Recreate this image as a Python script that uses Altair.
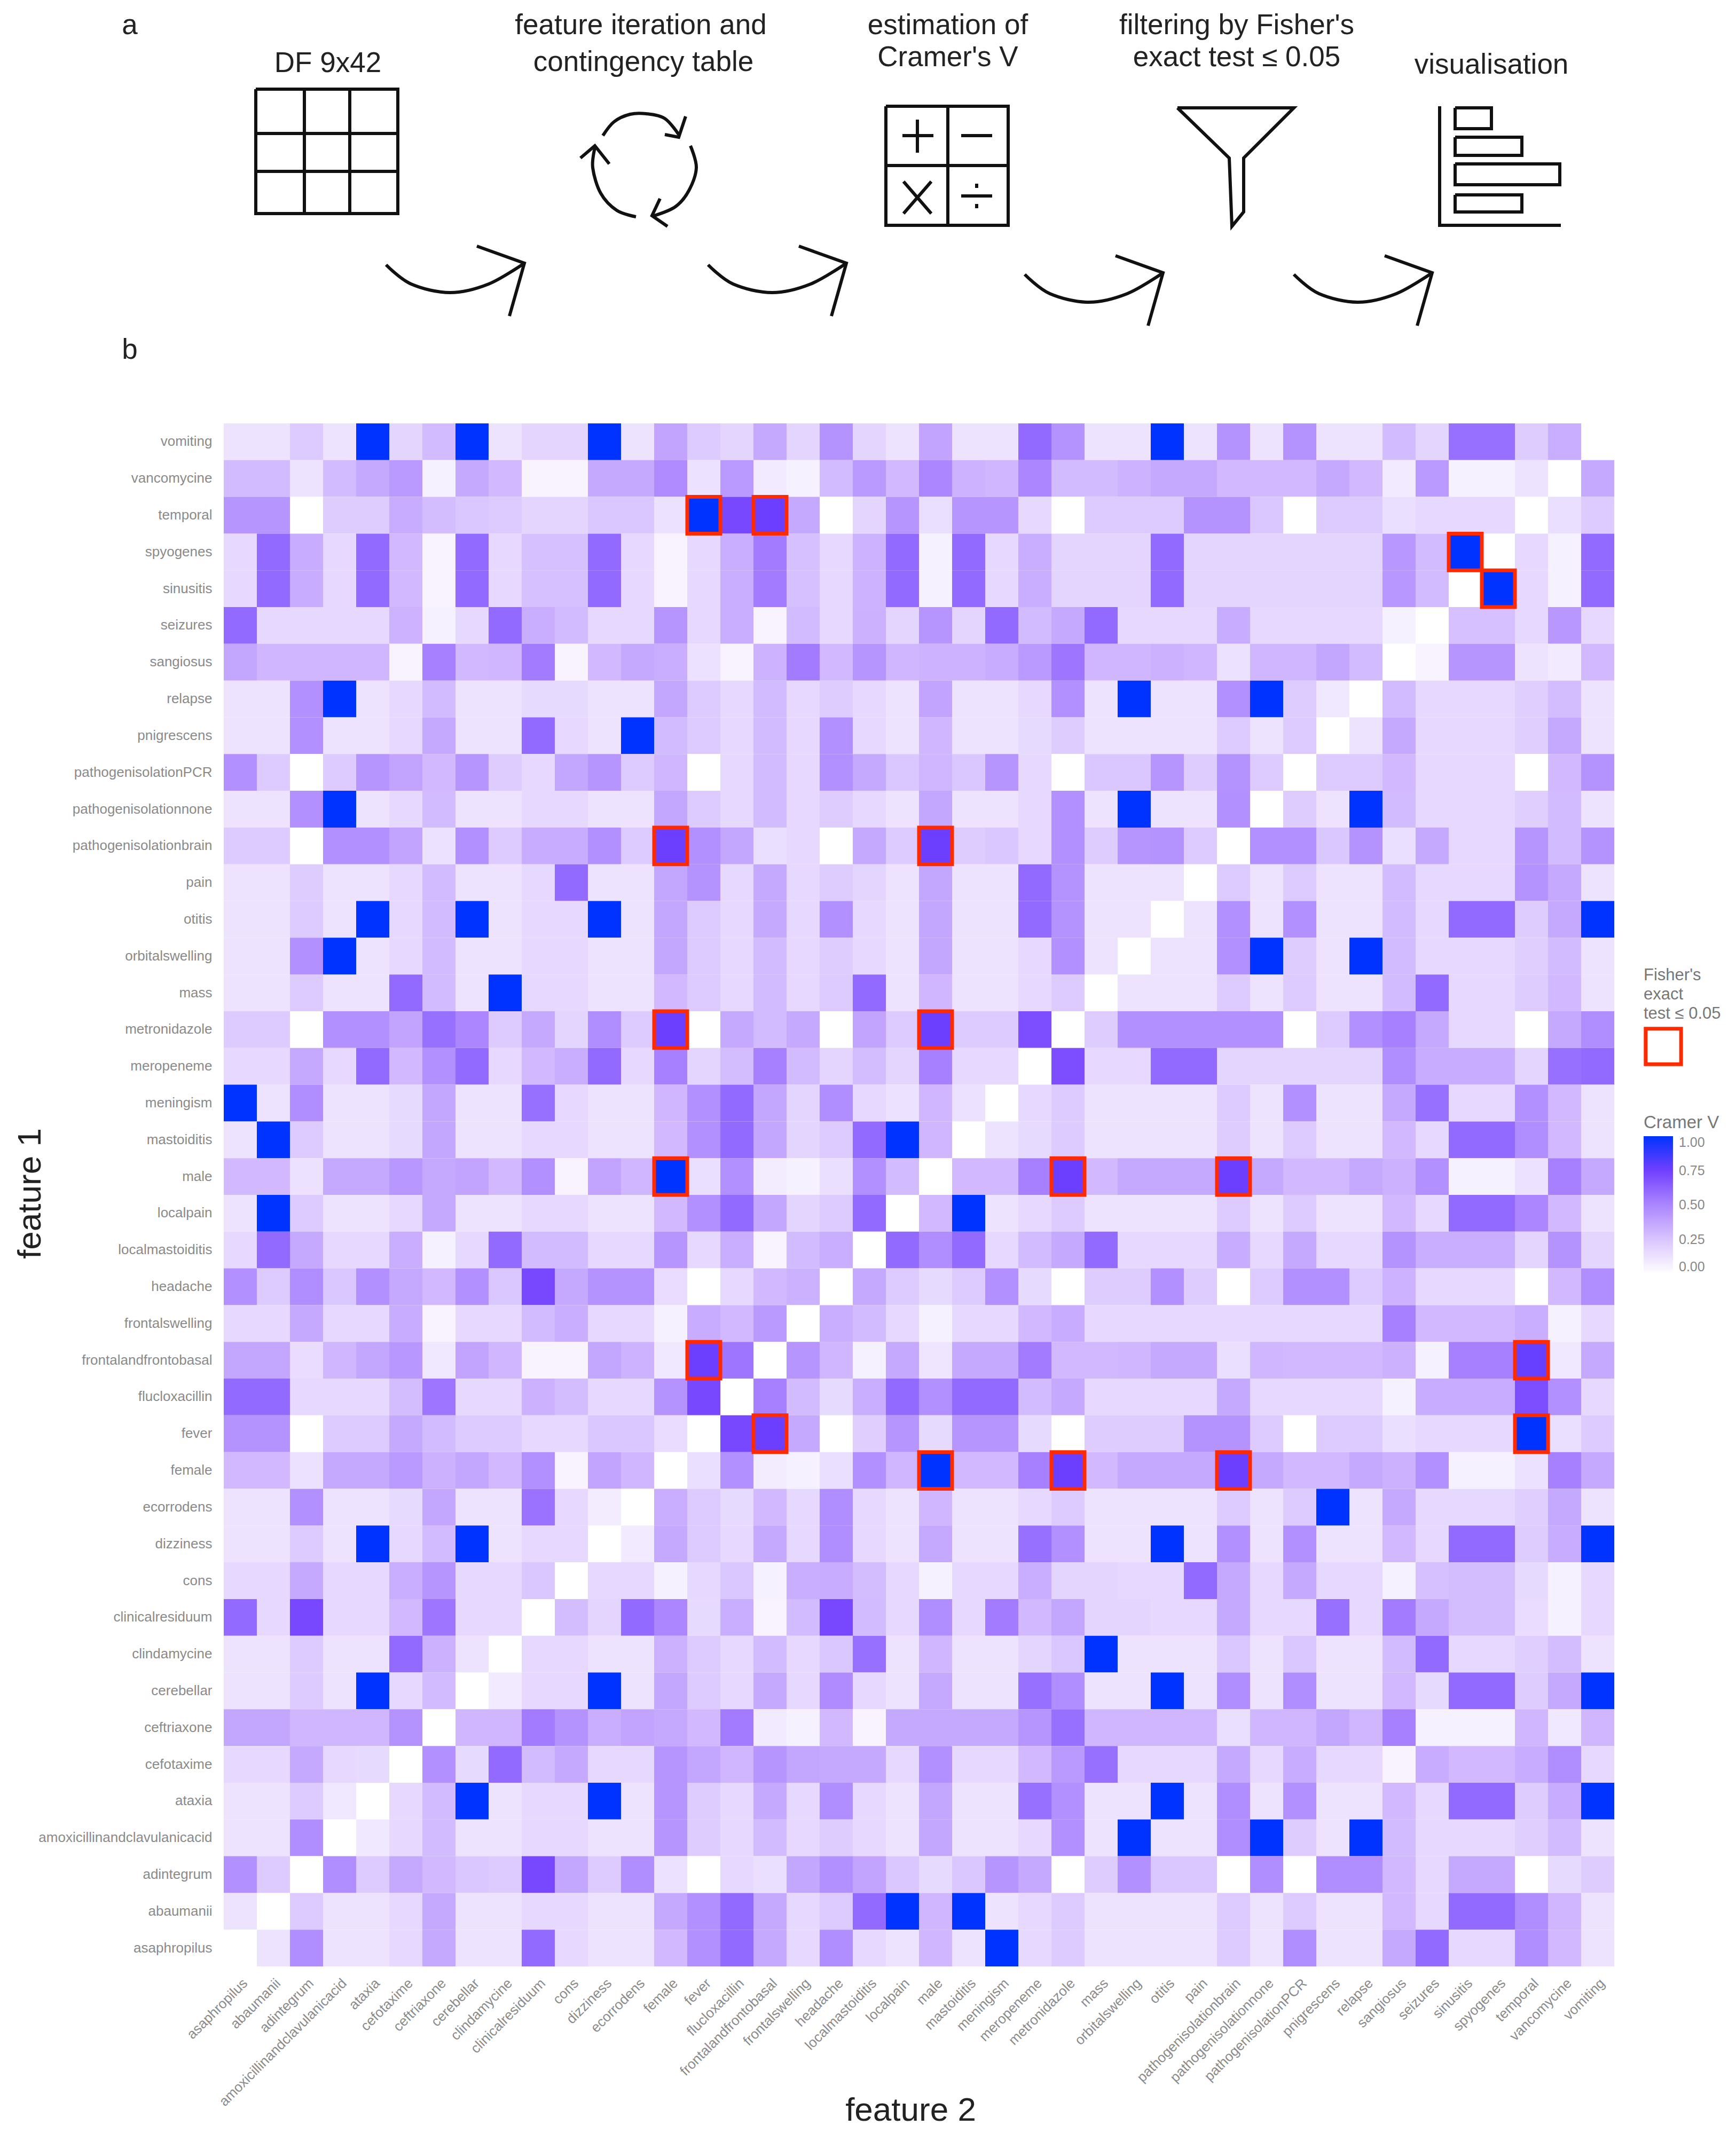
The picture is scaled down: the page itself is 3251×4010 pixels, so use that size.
import altair as alt
import pandas as pd

FONT = "Liberation Sans"

features_y = ["vomiting","vancomycine","temporal","spyogenes","sinusitis","seizures","sangiosus","relapse","pnigrescens","pathogenisolationPCR","pathogenisolationnone","pathogenisolationbrain","pain","otitis","orbitalswelling","mass","metronidazole","meropeneme","meningism","mastoiditis","male","localpain","localmastoiditis","headache","frontalswelling","frontalandfrontobasal","flucloxacillin","fever","female","ecorrodens","dizziness","cons","clinicalresiduum","clindamycine","cerebellar","ceftriaxone","cefotaxime","ataxia","amoxicillinandclavulanicacid","adintegrum","abaumanii","asaphropilus"]
features_x = features_y[::-1]

# Cramer's V in percent, one list per row (top to bottom), columns in features_x order
r_vomiting = [12,12,23,12,100,18,29,100,12,18,18, 100,12,38,23,18,36,18,45,18,12,38,12,12,60,45,12, 12,100,12,45,12,45,12,12,29,18,58,58,22,34,0]
r_vancomycine = [29,29,12,29,36,42,6,36,30,5,5, 36,36,48,13,42,9,6,29,42,30,50,32,31,50,29,29, 32,36,36,30,30,30,36,30,9,42,6,6,12,0,36]
r_temporal = [44,44,0,22,22,35,28,24,23,18,18, 24,24,13,100,72,76,36,0,18,44,14,44,44,17,0,23, 23,23,45,45,24,0,23,23,14,17,17,17,0,14,23]
r_spyogenes = [17,60,35,17,60,30,5,60,17,27,27, 60,17,5,17,34,54,27,17,32,60,6,60,17,34,18,18, 18,60,18,18,18,18,18,18,43,29,100,0,17,6,60]
r_sinusitis = [17,60,35,17,60,30,5,60,17,27,27, 60,17,5,17,34,54,27,17,32,60,6,60,17,34,18,18, 18,60,18,18,18,18,18,18,43,29,0,100,17,6,60]
r_seizures = [60,17,17,17,17,32,6,17,60,34,29, 17,17,44,17,34,5,29,17,33,18,44,18,60,29,36,60, 17,17,17,35,17,17,17,17,6,0,27,27,17,43,17]
r_sangiosus = [37,31,31,31,31,5,52,30,31,54,5, 30,36,34,13,5,32,54,30,44,31,32,32,35,42,56,31, 31,33,31,13,31,31,37,29,0,5,44,44,12,9,30]
r_relapse = [12,12,46,100,12,17,29,12,12,16,16, 12,12,37,23,17,29,17,22,17,12,38,12,12,17,46,12, 100,12,12,46,100,22,10,0,29,17,17,17,21,28,12]
r_pnigrescens = [12,12,46,12,12,17,36,12,12,60,17, 12,100,29,23,17,29,17,46,17,12,31,12,12,16,22,12, 12,12,12,23,12,23,0,12,36,17,17,17,21,36,12]
r_pcr = [46,23,0,23,44,38,30,44,22,17,37, 44,23,31,0,17,29,17,46,36,24,31,24,44,17,0,24, 24,44,22,45,23,0,23,23,30,17,17,17,0,30,45]
r_none = [12,12,46,100,12,17,29,12,12,17,17, 12,12,37,23,17,29,17,22,17,12,37,12,12,17,46,12, 100,12,12,46,0,22,12,100,29,17,17,17,21,29,12]
r_brain = [23,23,0,46,46,38,13,46,23,35,35, 46,23,76,46,37,14,17,0,36,23,76,22,24,17,46,22, 44,45,23,0,46,46,24,45,14,36,17,17,44,29,45]
r_pain = [12,12,22,12,12,17,29,12,12,17,60, 12,12,37,45,17,36,17,22,18,12,37,12,12,60,45,12, 12,12,0,23,12,23,12,12,29,17,17,17,45,36,12]
r_otitis = [12,12,23,12,100,17,29,100,12,17,17, 100,12,37,23,17,36,17,46,17,12,37,12,12,60,45,12, 12,0,12,46,12,46,12,12,29,17,60,60,22,36,100]
r_orbital = [12,12,46,100,12,17,29,12,12,17,17, 12,12,37,23,17,29,17,22,17,12,37,12,12,17,46,12, 0,12,12,46,100,22,12,100,29,17,17,17,21,29,12]
r_mass = [12,12,23,12,12,60,29,12,100,17,17, 12,12,30,23,17,29,17,23,60,12,31,12,12,17,23,0, 12,12,12,23,12,23,12,12,29,60,17,17,22,30,12]
r_metronidazole = [23,23,0,46,46,38,58,50,23,36,18, 47,23,76,0,36,29,36,0,38,23,76,23,23,70,0,22, 46,46,46,46,46,0,23,46,52,36,17,17,0,36,47]
r_meropeneme = [17,17,36,17,60,30,46,60,17,30,34, 60,17,52,18,28,52,29,18,28,18,52,17,17,0,70,17, 17,60,60,18,18,18,18,18,47,35,35,35,18,58,60]
r_meningism = [100,12,47,12,12,16,37,12,12,58,17, 12,12,31,46,60,37,18,47,17,13,31,13,0,17,23,12, 12,12,12,23,12,46,12,12,36,58,17,17,46,30,12]
r_mastoiditis = [12,100,23,12,12,16,37,12,12,17,17, 12,12,30,46,60,37,18,23,60,100,31,0,12,16,23,12, 12,12,12,22,12,23,12,12,30,17,60,60,47,30,12]
r_male = [30,30,13,36,36,43,36,38,30,46,5, 38,31,100,14,46,8,6,14,46,29,0,30,30,52,76,30, 36,36,36,76,36,30,30,36,33,46,6,6,13,52,36]
r_localpain = [12,100,23,12,12,17,36,12,12,17,17, 12,12,30,46,60,37,18,23,60,0,30,100,12,17,23,12, 12,12,12,23,12,23,12,12,30,17,60,60,50,30,12]
r_localmastoiditis = [17,60,36,17,17,34,6,17,60,29,29, 17,17,44,17,34,5,29,34,0,60,47,60,17,29,36,60, 17,17,17,35,17,36,17,17,45,34,34,34,18,45,18]
r_headache = [46,23,47,24,46,36,30,46,24,72,36, 45,45,15,0,17,30,33,0,36,23,16,23,46,16,0,22, 22,46,22,0,23,46,46,23,32,17,17,17,0,30,47]
r_frontalswelling = [17,17,36,17,17,35,5,17,17,29,34, 17,17,6,35,30,42,0,34,29,17,6,17,17,30,35,17, 17,17,17,17,17,17,17,17,52,30,30,30,34,6,17]
r_frontobasal = [37,37,15,31,37,43,10,38,31,5,5, 37,32,10,76,56,0,44,31,6,36,11,36,36,54,30,30, 31,36,36,14,31,30,30,30,33,6,52,52,77,10,36]
r_flucloxacillin = [60,60,17,17,17,28,56,17,17,33,28, 17,17,45,72,0,52,29,16,34,60,46,60,60,29,36,17, 17,17,17,36,17,17,17,17,6,35,35,35,70,46,17]
r_fever = [45,45,0,23,23,36,29,23,23,17,17, 24,24,15,0,72,76,36,0,21,44,16,44,44,16,0,22, 22,22,45,45,23,0,23,23,14,17,17,17,100,14,23]
r_female = [30,30,13,36,36,42,33,37,30,46,5, 38,31,0,14,46,8,6,14,46,31,100,30,30,52,76,30, 36,36,36,76,36,30,30,36,33,46,6,6,13,52,36]
r_ecorrodens = [12,12,46,12,12,16,37,12,12,57,17, 8,0,34,23,16,30,17,47,17,12,31,12,12,17,23,12, 12,12,12,23,12,23,100,12,36,17,17,17,21,36,12]
r_dizziness = [12,12,23,12,100,17,29,100,12,17,17, 0,9,36,23,17,36,17,47,17,12,36,12,12,58,46,12, 12,100,12,46,12,46,12,12,30,17,60,60,22,35,100]
r_cons = [17,17,36,17,17,34,44,17,17,24,0, 17,17,6,17,24,6,34,35,28,17,6,17,17,34,18,18, 17,17,60,36,17,36,17,17,6,27,28,28,16,6,17]
r_clinicalresiduum = [60,17,72,17,17,30,56,17,17,0,28, 18,60,50,16,34,5,29,72,29,17,47,17,54,30,37,18, 18,17,17,36,17,17,58,17,54,36,28,28,15,6,17]
r_clindamycine = [12,12,23,12,12,60,33,12,0,17,17, 12,12,33,23,17,29,17,24,58,12,31,12,12,18,24,100, 12,12,12,24,12,24,12,12,29,60,17,17,21,28,12]
r_cerebellar = [12,12,23,12,100,17,29,0,9,17,17, 100,12,37,23,17,36,17,48,17,12,36,12,12,58,47,12, 12,100,12,47,12,47,12,12,30,16,60,60,22,36,100]
r_ceftriaxone = [37,37,31,31,31,45,0,31,31,54,45, 34,38,36,30,54,9,6,30,5,36,36,36,36,44,58,31, 31,31,31,14,31,31,37,31,52,6,6,6,31,10,31]
r_cefotaxime = [17,17,36,17,16,0,46,16,60,29,36, 17,17,44,37,31,44,37,36,36,17,46,17,17,30,42,58, 17,17,17,36,17,35,17,17,5,35,30,30,35,47,17]
r_ataxia = [12,12,23,10,0,17,29,100,12,17,17, 100,12,44,22,17,36,17,47,17,12,37,12,12,58,46,12, 12,100,12,47,12,46,12,12,30,17,60,60,22,35,100]
r_amoxicillin = [12,12,47,0,10,17,29,12,12,17,17, 12,12,44,22,17,29,17,22,17,12,37,12,12,17,46,12, 100,12,12,47,100,22,12,100,29,17,17,17,21,29,12]
r_adintegrum = [46,23,0,47,23,36,30,24,23,72,37, 23,47,13,0,17,14,37,46,38,24,16,24,44,36,0,22, 46,24,24,0,47,0,47,47,30,17,36,36,0,16,22]
r_abaumanii = [12,0,23,12,12,17,36,12,12,17,17, 12,12,36,46,60,36,17,23,60,100,31,100,12,17,23,12, 12,12,12,23,12,23,12,12,30,17,60,60,47,31,12]
r_asaphropilus = [0,12,47,12,12,17,36,12,12,60,17, 12,12,30,46,60,36,17,47,17,12,31,12,100,17,23,12, 12,12,12,23,12,47,12,12,36,60,17,17,47,30,12]

rows = [r_vomiting,r_vancomycine,r_temporal,r_spyogenes,r_sinusitis,r_seizures,r_sangiosus,r_relapse,r_pnigrescens,r_pcr,r_none,r_brain,r_pain,r_otitis,r_orbital,r_mass,r_metronidazole,r_meropeneme,r_meningism,r_mastoiditis,r_male,r_localpain,r_localmastoiditis,r_headache,r_frontalswelling,r_frontobasal,r_flucloxacillin,r_fever,r_female,r_ecorrodens,r_dizziness,r_cons,r_clinicalresiduum,r_clindamycine,r_cerebellar,r_ceftriaxone,r_cefotaxime,r_ataxia,r_amoxicillin,r_adintegrum,r_abaumanii,r_asaphropilus]

fisher_pairs = [("temporal","fever"),("temporal","frontalandfrontobasal"),("spyogenes","sinusitis"),("sinusitis","spyogenes"),
    ("pathogenisolationbrain","female"),("pathogenisolationbrain","male"),("metronidazole","female"),("metronidazole","male"),
    ("male","female"),("male","metronidazole"),("male","pathogenisolationbrain"),("frontalandfrontobasal","fever"),("frontalandfrontobasal","temporal"),
    ("fever","frontalandfrontobasal"),("fever","temporal"),("female","male"),("female","metronidazole"),("female","pathogenisolationbrain")]

cells = pd.DataFrame([{"f1":features_y[i],"f2":features_x[j],"v":rows[i][j]/100} for i in range(42) for j in range(42)])
fisher = pd.DataFrame([{"f1":a,"f2":b,"k":"yes"} for a,b in fisher_pairs])

W, H = 2604, 2890
x_enc = alt.X("f2:N", sort=features_x, scale=alt.Scale(paddingInner=0, paddingOuter=0), title="feature 2",
    axis=alt.Axis(labelAngle=315, labelAlign="right", labelBaseline="top", labelFontSize=26, labelFont=FONT, labelColor="#8a8a8a",
                  labelPadding=18, labelLimit=0, ticks=False, domain=False, titleFontSize=62, titleFont=FONT, titleFontWeight="normal", titleColor="#222222",
                  titleX=1286, titleY=269, titleBaseline="middle", labelOverlap=False, grid=False))
y_enc = alt.Y("f1:N", sort=features_y, scale=alt.Scale(paddingInner=0, paddingOuter=0), title="feature 1",
    axis=alt.Axis(labelFontSize=26, labelFont=FONT, labelColor="#8a8a8a", labelPadding=22, labelLimit=0, ticks=False, domain=False,
                  titleFontSize=62, titleFont=FONT, titleFontWeight="normal", titleColor="#222222", labelOverlap=False, grid=False,
                  titleX=-363, titleY=1442, titleBaseline="middle"))

heat = alt.Chart(cells).mark_rect().encode(
    x=x_enc, y=y_enc,
    color=alt.Color("v:Q", title="Cramer V",
        scale=alt.Scale(domain=[0,0.25,0.5,0.75,1], range=["#ffffff","#dac5ff","#ab86ff","#7040ff","#0033ff"], interpolate="rgb"),
        legend=alt.Legend(orient="none", legendX=2659, legendY=2077, direction="vertical", gradientLength=258, gradientThickness=55,
                          values=[0,0.25,0.5,0.75,1], format=".2f", titleFontSize=33, titleFont=FONT, titleFontWeight="normal", titleColor="#777777",
                          labelFontSize=25, labelFont=FONT, labelColor="#888888", titlePadding=8, labelOffset=11, tickCount=5)))

boxes = alt.Chart(fisher).mark_rect(fill="transparent", strokeWidth=7).encode(
    x=alt.X("f2:N", sort=features_x, title="feature 2"), y=alt.Y("f1:N", sort=features_y, title="feature 1"),
    stroke=alt.Stroke("k:N", title=["Fisher's","exact","test \u2264 0.05"],
        scale=alt.Scale(domain=["yes"], range=["#ff2a00"]),
        legend=alt.Legend(orient="none", legendX=2659, legendY=1802, symbolType="square", symbolSize=4400, symbolStrokeWidth=7, labelExpr="''",
                          titleFontSize=31, titleFont=FONT, titleFontWeight="normal", titleColor="#777777", titleLineHeight=36, titlePadding=8, symbolOpacity=1)))

heatmap = alt.layer(heat, boxes).properties(width=W, height=H)

# Panel a: workflow diagram, in page pixels
PH = 783
px = alt.Scale(domain=[419, 419+W], range=[0, W], nice=False, zero=False)
py = alt.Scale(domain=[8+PH, 8], nice=False, zero=False)

text_x = [243,243,614,1200,1205,1775,1775,2316,2316,2793]
text_y = [46,654,117,46,115,46,106,46,106,120]
text_s = ["a","b","DF 9x42","feature iteration and","contingency table","estimation of","Cramer's V","filtering by Fisher's","exact test \u2264 0.05","visualisation"]
labels = pd.DataFrame({"x":text_x,"y":text_y,"s":text_s})

def segs(name, pts):
    return [{"g":name,"i":i,"x":p[0],"y":p[1]} for i,p in enumerate(pts)]

paths = []
# data grid
paths += segs("g1",[(479,165),(745,165),(745,398),(479,398),(479,165)])
paths += segs("g2",[(479,248),(745,248)]) + segs("g3",[(479,319),(745,319)]) + segs("g4",[(570,165),(570,398)]) + segs("g5",[(655,165),(655,398)])
# calculator
paths += segs("c1",[(1659,197),(1888,197),(1888,420),(1659,420),(1659,197)])
paths += segs("c2",[(1775,197),(1775,420)]) + segs("c3",[(1659,308),(1888,308)])
paths += segs("c4",[(1690,252),(1748,252)]) + segs("c5",[(1718,222),(1718,284)]) + segs("c6",[(1800,252),(1858,252)])
paths += segs("c7",[(1692,338),(1744,398)]) + segs("c8",[(1744,338),(1692,398)]) + segs("c9",[(1800,365),(1858,365)])
paths += segs("c10",[(1829,342),(1829,350)]) + segs("c11",[(1829,380),(1829,388)])
# funnel
paths += segs("f1",[(2205,200),(2423,200),(2329,294),(2329,395),(2307,422),(2302,294),(2205,200)])
# bars icon
paths += segs("b1",[(2696,197),(2696,420),(2923,420)])
paths += segs("b2",[(2725,200),(2793,200),(2793,239),(2725,239),(2725,200)])
paths += segs("b3",[(2725,255),(2850,255),(2850,289),(2725,289),(2725,255)])
paths += segs("b4",[(2725,305),(2921,305),(2921,344),(2725,344),(2725,305)])
paths += segs("b5",[(2725,363),(2850,363),(2850,395),(2725,395),(2725,363)])
# cycle arrow heads
paths += segs("h1",[(1284,216),(1271,255),(1245,250)])
paths += segs("h2",[(1087,294),(1114,271),(1141,305)])
paths += segs("h3",[(1236,370),(1221,402),(1250,422)])
# arrow heads of the four curved arrows
for n,(dx,dy) in enumerate([(0,0),(603,0),(1196,18),(1700,18)]):
    paths += segs(f"a{n}",[(893+dx,459+dy),(982+dx,491+dy),(954+dx,590+dy)])
straight = pd.DataFrame(paths)

curved = []
curved += segs("k1",[(1129,252),(1150,226),(1180,212),(1210,211),(1245,220),(1271,250)])
curved += segs("k2",[(1114,275),(1110,312),(1125,360),(1155,392),(1191,404)])
curved += segs("k3",[(1293,271),(1304,312),(1290,355),(1265,385),(1225,402)])
for n,(dx,dy) in enumerate([(0,0),(603,0),(1196,18),(1700,18)]):
    curved += segs(f"m{n}",[(723+dx,494+dy),(770+dx,530+dy),(843+dx,546+dy),(915+dx,530+dy),(982+dx,491+dy)])
curved = pd.DataFrame(curved)

xq = alt.X("x:Q", scale=px, axis=None)
yq = alt.Y("y:Q", scale=py, axis=None)
a_lines = alt.Chart(straight).mark_line(color="#111111", strokeWidth=6, clip=False).encode(x=xq, y=yq, detail="g:N", order="i:Q")
a_curves = alt.Chart(curved).mark_line(color="#111111", strokeWidth=6, interpolate="cardinal", clip=False).encode(x=xq, y=yq, detail="g:N", order="i:Q")
a_text = alt.Chart(labels).mark_text(font=FONT, fontSize=53, color="#222222", align="center", baseline="middle", clip=False).encode(x=xq, y=yq, text="s:N")
panel_a = alt.layer(a_lines, a_curves, a_text).properties(width=W, height=PH)

for r in rows:
    assert len(r) == 42

chart = alt.vconcat(panel_a, heatmap, spacing=0).resolve_scale(x="independent", y="independent").properties(
    padding={"left":17,"top":2,"right":0,"bottom":0}).configure_view(stroke=None)
chart.save("out.html", embed_options={"renderer": "svg", "actions": False})
